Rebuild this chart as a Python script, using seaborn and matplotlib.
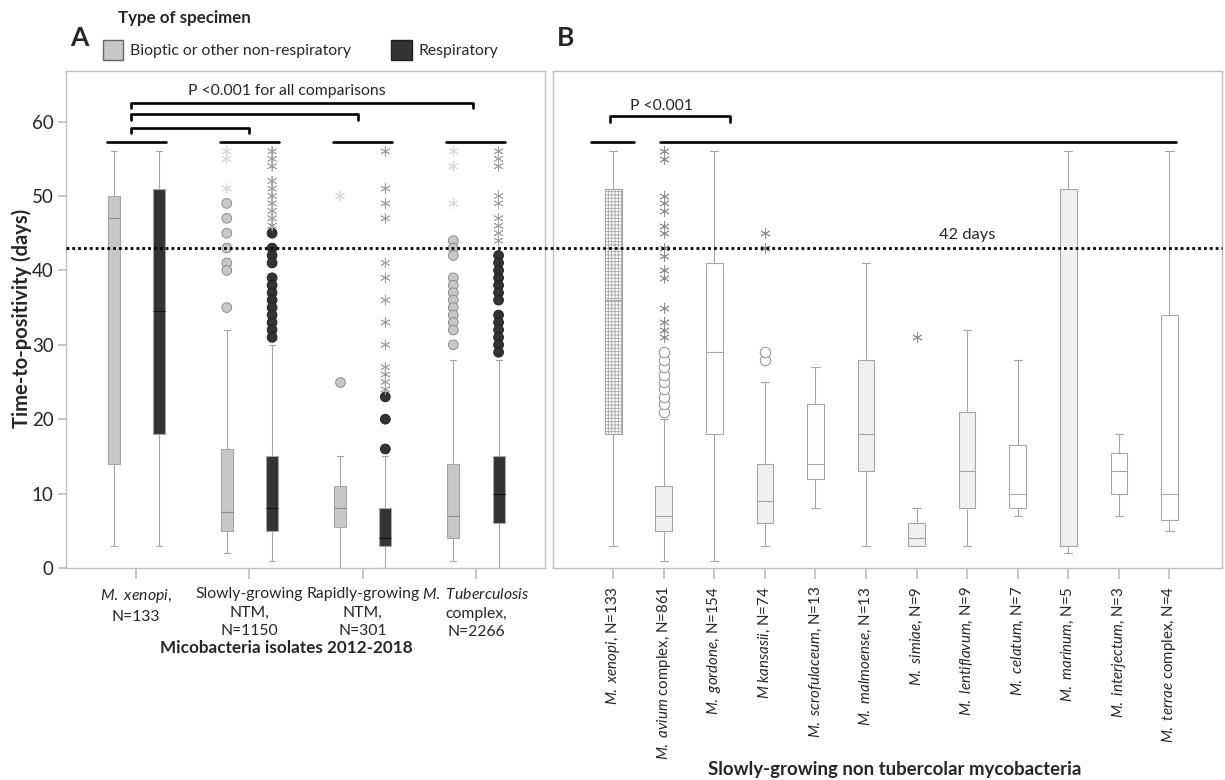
import pandas as pd
import matplotlib
matplotlib.use("Agg")
import matplotlib.pyplot as plt
import matplotlib.transforms as mtransforms
from matplotlib.lines import Line2D
from matplotlib.patches import Patch
import seaborn as sns

# ---- Panel A data ----
groups_a = ["M. xenopi", "Slowly-growing NTM", "Rapidly-growing NTM", "M. Tuberculosis complex"]
group_labels_a = [
    "$\\mathit{M.\\ xenopi}$,\nN=133",
    "Slowly-growing\nNTM,\nN=1150",
    "Rapidly-growing\nNTM,\nN=301",
    "$\\mathit{M.\\ Tuberculosis}$\ncomplex,\nN=2266",
]
types = ["Bioptic or other non-respiratory", "Respiratory"]

# low whisker, q1, median, q3, high whisker
box_bioptic = [[3, 14, 47, 50, 56], [2, 5, 7.5, 16, 32], [0, 5.5, 8, 11, 15], [1, 4, 7, 14, 28]]
box_resp = [[3, 18, 34.5, 51, 56], [1, 5, 8, 15, 30], [0, 3, 4, 8, 15], [0, 6, 10, 15, 28]]

circles_bioptic = [[], [49, 47, 45, 43, 41, 40, 35], [25],
                   [44, 43, 42, 39, 38, 37, 36, 35, 34, 33, 32, 30]]
circles_resp = [[], [45, 43, 42, 41, 39, 38, 37, 36, 35, 34, 33, 32, 31], [23, 20, 16],
                [42, 41, 40, 39, 38, 37, 36, 34, 33, 32, 31, 30, 29]]
stars_bioptic = [[], [56, 55, 51], [50], [56, 54, 49]]
stars_resp = [[], [56, 55, 54, 52, 51, 50, 49, 48, 47, 46],
              [56, 51, 49, 47, 41, 39, 36, 33, 30, 27, 26, 25, 24],
              [56, 55, 54, 50, 49, 47, 46, 45, 44]]

# ---- Panel B data ----
species = ["xenopi", "avium", "gordone", "kansasii", "scrofulaceum", "malmoense",
           "simiae", "lentiflavum", "celatum", "marinum", "interjectum", "terrae"]
species_labels = [
    "$\\mathit{M.\\ xenopi}$, N=133",
    "$\\mathit{M.\\ avium}$ complex, N=861",
    "$\\mathit{M.\\ gordone}$, N=154",
    "$\\mathit{M\\ kansasii}$, N=74",
    "$\\mathit{M.\\ scrofulaceum}$, N=13",
    "$\\mathit{M.\\ malmoense}$, N=13",
    "$\\mathit{M.\\ simiae}$, N=9",
    "$\\mathit{M.\\ lentiflavum}$, N=9",
    "$\\mathit{M.\\ celatum}$, N=7",
    "$\\mathit{M.\\ marinum}$, N=5",
    "$\\mathit{M.\\ interjectum}$, N=3",
    "$\\mathit{M.\\ terrae}$ complex, N=4",
]
box_b = [[3, 18, 36, 51, 56], [1, 5, 7, 11, 20], [1, 18, 29, 41, 56], [3, 6, 9, 14, 25],
         [8, 12, 14, 22, 27], [3, 13, 18, 28, 41], [3, 3, 4, 6, 8], [3, 8, 13, 21, 32],
         [7, 8, 10, 16.5, 28], [2, 3, 3, 51, 56], [7, 10, 13, 15.5, 18], [5, 6.5, 10, 34, 56]]
fill_b = ["#ffffff", "#f0f0f0", "#ffffff", "#f0f0f0", "#ffffff", "#f0f0f0",
          "#f0f0f0", "#f0f0f0", "#ffffff", "#f0f0f0", "#ffffff", "#ffffff"]
circles_b = [[], [21, 22, 23, 24, 25, 26, 27, 28, 29], [], [28, 29], [], [], [], [], [], [], [], []]
stars_b = [[], [56, 55, 50, 49, 48, 46, 45, 43, 42, 40, 39, 35, 33, 32, 31], [], [45, 43],
           [], [], [31], [], [], [], [], []]

cutoff = 43


def long_frame(values, cats, col):
    rows = [(c, v) for c, vals in zip(cats, values) for v in vals]
    return pd.DataFrame(rows, columns=[col, "days"])


sns.set_theme(style="white")
plt.rcParams["font.family"] = ["Lato", "DejaVu Sans"]
plt.rcParams["mathtext.fontset"] = "custom"
plt.rcParams["mathtext.rm"] = "Lato"
plt.rcParams["mathtext.it"] = "Lato:italic"
plt.rcParams["mathtext.bf"] = "Lato:bold"
plt.rcParams["hatch.linewidth"] = 0.6

W, H = 1225, 780
fig = plt.figure(figsize=(W / 100, H / 100), dpi=100)
ax_a = fig.add_axes([66 / W, 212 / H, 479 / W, 497 / H])
ax_b = fig.add_axes([553 / W, 212 / H, 669 / W, 497 / H])

pal_a = {types[0]: "#c8c8c8", types[1]: "#333333"}

# ---- Panel A boxes ----
for typ, boxes, med in [(types[0], box_bioptic, "#8c8c8c"), (types[1], box_resp, "#111111")]:
    d = long_frame(boxes, groups_a, "group")
    d["type"] = typ
    sns.boxplot(data=d, x="group", y="days", hue="type", order=groups_a, hue_order=types,
                palette=pal_a, saturation=1, dodge=True, width=0.8, gap=0.735,
                whis=(0, 100), showfliers=False, linewidth=0.8, linecolor="#a6a6a6",
                medianprops=dict(color=med), legend=False, ax=ax_a)

for typ, circ, edge in [(types[0], circles_bioptic, "#8c8c8c"), (types[1], circles_resp, "#222222")]:
    d = long_frame(circ, groups_a, "group")
    d["type"] = typ
    sns.stripplot(data=d, x="group", y="days", hue="type", order=groups_a, hue_order=types,
                  palette=pal_a, dodge=True, jitter=False, size=7, edgecolor=edge,
                  linewidth=0.7, legend=False, ax=ax_a)

for typ, stars, col in [(types[0], stars_bioptic, "#d9d9d9"), (types[1], stars_resp, "#a0a0a0")]:
    d = long_frame(stars, groups_a, "group")
    d["type"] = typ
    n0 = len(ax_a.collections)
    sns.stripplot(data=d, x="group", y="days", hue="type", order=groups_a, hue_order=types,
                  palette=pal_a, dodge=True, jitter=False, size=7, marker=(6, 2, 0),
                  linewidth=0.6, legend=False, ax=ax_a)
    for coll in ax_a.collections[n0:]:
        coll.set_facecolor("none")
        coll.set_edgecolor(col)

# ---- Panel B boxes ----
db = long_frame(box_b, species, "species")
sns.boxplot(data=db, x="species", y="days", hue="species", order=species, hue_order=species,
            palette=dict(zip(species, fill_b)), saturation=1, width=0.33,
            whis=(0, 100), showfliers=False, linewidth=0.8, linecolor="#a6a6a6",
            legend=False, ax=ax_b)
ax_b.patches[0].set_hatch("+++++")

sns.stripplot(data=long_frame(circles_b, species, "species"), x="species", y="days",
              order=species, color="white", edgecolor="#8c8c8c", linewidth=0.7,
              jitter=False, size=7.5, ax=ax_b)
sns.stripplot(data=long_frame(stars_b, species, "species"), x="species", y="days",
              order=species, color="#8c8c8c", marker=(6, 2, 0), linewidth=0.6,
              jitter=False, size=7, ax=ax_b)

# ---- axes styling ----
for ax in (ax_a, ax_b):
    ax.set_ylim(0, 66.8)
    ax.set_xlabel("")
    ax.set_ylabel("")
    for s in ax.spines.values():
        s.set_visible(True)
        s.set_color("#bfbfbf")
        s.set_linewidth(1)
ax_b.set_facecolor("none")

ax_a.set_xlim(-0.62, 3.61)
ax_a.set_yticks(range(0, 61, 10))
ax_a.set_xticks(range(len(groups_a)))
ax_a.set_xticklabels(group_labels_a, fontsize=11.3, linespacing=1.4)
ax_a.tick_params(axis="y", left=True, length=6, color="#bfbfbf", labelsize=13.5, pad=3)
ax_a.tick_params(axis="x", bottom=True, length=8, color="#bfbfbf", pad=6)

ax_b.set_xlim(-1.19, 12.04)
ax_b.set_yticks([])
ax_b.set_xticks(range(len(species)))
ax_b.set_xticklabels(species_labels, rotation=90, fontsize=10.8)
ax_b.tick_params(axis="x", bottom=True, length=8, color="#bfbfbf", pad=5)

# significance lines and brackets
lw = 1.9
for g in range(len(groups_a)):
    ax_a.plot([g - 0.26, g + 0.26], [57.3, 57.3], color="black", lw=lw, zorder=4)
for x1, top, leg in [(1.0, 59.1, 58.4), (1.955, 61.0, 60.2), (2.975, 62.5, 61.8)]:
    ax_a.plot([-0.05, -0.05, x1, x1], [leg, top, top, leg], color="black", lw=lw, zorder=4)
ax_a.text(1.33, 64.1, "P <0.001 for all comparisons", ha="center", va="center", fontsize=11.3)

ax_b.plot([-0.43, 0.41], [57.3, 57.3], color="black", lw=lw, zorder=4)
ax_b.plot([0.92, 11.14], [57.3, 57.3], color="black", lw=lw, zorder=4)
ax_b.plot([-0.07, -0.07, 2.31, 2.31], [59.9, 60.7, 60.7, 59.9], color="black", lw=lw, zorder=4)
ax_b.text(0.95, 62.1, "P <0.001", ha="center", va="center", fontsize=11.3)
ax_b.text(7.0, 44.8, "42 days", ha="center", va="center", fontsize=11.8)

# dotted 42-day line across both panels
blend = mtransforms.blended_transform_factory(fig.transFigure, ax_a.transData)
fig.add_artist(Line2D([66 / W, 1222 / W], [cutoff, cutoff], transform=blend, color="black",
                      lw=2, linestyle=(0, (1, 1.1)), zorder=5))

# texts
fig.text(22 / W, 1 - 318 / H, "Time-to-positivity (days)", rotation=90, ha="center",
         va="center", fontsize=14.5, fontweight="bold")
fig.text(286 / W, 1 - 648 / H, "Micobacteria isolates 2012-2018", ha="center", va="center",
         fontsize=12.3, fontweight="bold")
fig.text(895 / W, 1 - 770 / H, "Slowly-growing non tubercolar mycobacteria", ha="center",
         va="center", fontsize=13.4, fontweight="bold")
fig.text(70 / W, 1 - 38 / H, "A", ha="left", va="center", fontsize=19, fontweight="bold")
fig.text(557 / W, 1 - 38 / H, "B", ha="left", va="center", fontsize=19, fontweight="bold")
fig.text(118 / W, 1 - 18 / H, "Type of specimen", ha="left", va="center", fontsize=12.2,
         fontweight="bold")

handles = [Patch(facecolor="#c8c8c8", edgecolor="#666666", lw=1),
           Patch(facecolor="#333333", edgecolor="#222222", lw=1)]
fig.legend(handles, types, loc="center left", bbox_to_anchor=(103 / W, 1 - 50 / H), ncol=2,
           frameon=False, fontsize=11.3, handlelength=1.3, handleheight=1.5,
           handletextpad=0.4, columnspacing=2.6, borderpad=0, borderaxespad=0)

fig.savefig("out.png", dpi=100)
